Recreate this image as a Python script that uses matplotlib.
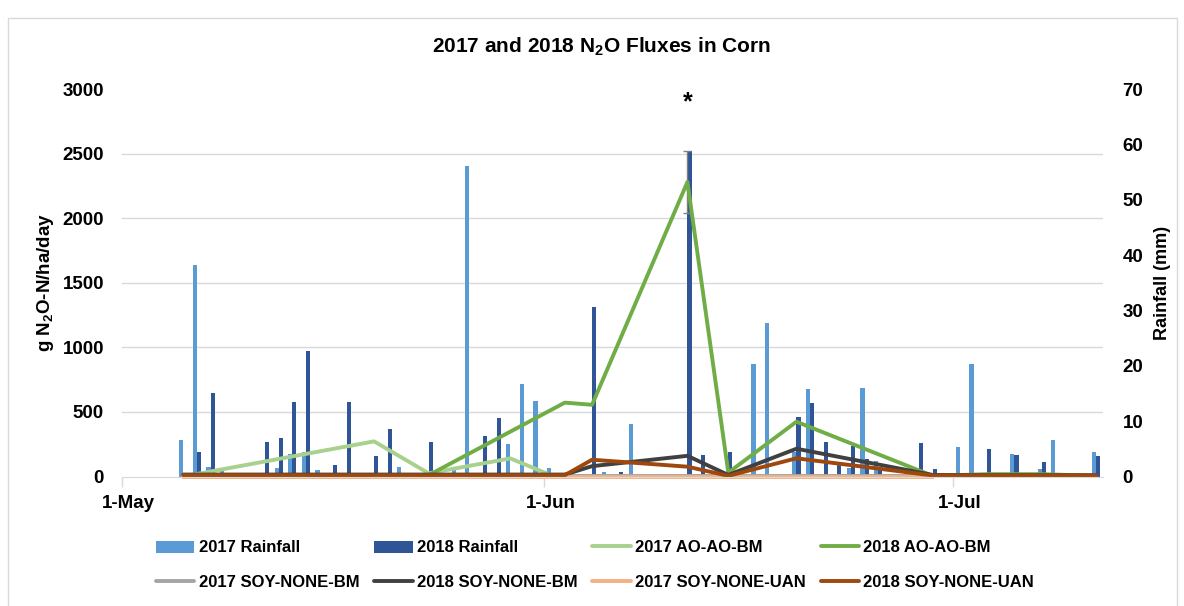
import numpy as np
import pandas as pd
import matplotlib
matplotlib.use('Agg')
import matplotlib.pyplot as plt
from matplotlib.ticker import FixedLocator
from matplotlib.patches import Rectangle

# bold face for everything, subscripts in the same face
plt.rcParams['font.family'] = ['Liberation Sans', 'DejaVu Sans']
plt.rcParams['font.weight'] = 'bold'
plt.rcParams['mathtext.default'] = 'regular'

# daily rainfall (mm)
rain17_dates = ['5-May', '6-May', '7-May', '8-May', '12-May', '13-May', '14-May', '15-May',
                '21-May', '25-May', '26-May', '29-May', '30-May', '31-May', '1-Jun', '5-Jun',
                '7-Jun', '16-Jun', '17-Jun', '19-Jun', '20-Jun', '23-Jun', '24-Jun', '25-Jun',
                '1-Jul', '2-Jul', '5-Jul', '7-Jul', '8-Jul', '11-Jul']
rain17 = [6.6, 38.2, 1.7, 1.0, 1.6, 4.0, 4.5, 1.2,
          1.7, 1.4, 56.1, 5.9, 16.8, 13.6, 1.5, 0.8,
          9.4, 20.4, 27.7, 4.5, 15.8, 1.6, 15.9, 2.8,
          5.4, 20.4, 4.0, 1.35, 6.6, 4.5]

rain18_dates = ['6-May', '7-May', '11-May', '12-May', '13-May', '14-May', '16-May', '17-May',
                '19-May', '20-May', '21-May', '23-May', '27-May', '28-May', '4-Jun', '6-Jun',
                '11-Jun', '12-Jun', '14-Jun', '19-Jun', '20-Jun', '21-Jun', '22-Jun', '23-Jun',
                '24-Jun', '25-Jun', '28-Jun', '29-Jun', '3-Jul', '5-Jul', '7-Jul', '11-Jul']
rain18 = [4.5, 15.0, 6.3, 7.0, 13.5, 22.7, 2.0, 13.5,
          3.7, 8.5, 0.5, 6.3, 7.4, 10.5, 30.7, 0.8,
          58.8, 3.8, 4.4, 10.7, 13.2, 6.3, 2.1, 5.6,
          3.1, 1.3, 6.0, 1.4, 4.9, 3.8, 2.7, 3.7]

# N2O fluxes (g N2O-N/ha/day)
flux17_dates = ['5-May', '19-May', '23-May', '29-May', '1-Jun', '4-Jun', '11-Jun',
                '14-Jun', '19-Jun', '29-Jun']
ao17 = [0, 272, 25, 140, 10, 0, 0, 0, 0, 0]
bm17 = [5, 5, 5, 5, 5, 5, 5, 5, 5, 5]
uan17 = [0, 0, 0, 0, 0, 0, 0, 0, 0, 0]

flux18_dates = ['5-May', '12-May', '19-May', '23-May', '2-Jun', '4-Jun', '11-Jun',
                '14-Jun', '19-Jun', '29-Jun', '3-Jul', '7-Jul', '11-Jul']
ao18 = [0, 0, 0, 10, 572, 555, 2280, 30, 424, 5, 18, 18, 5]
bm18 = [15, 15, 15, 15, 15, 80, 160, 12, 215, 12, 10, 10, 10]
uan18 = [10, 10, 10, 10, 10, 130, 76, 5, 141, 8, 8, 8, 8]

# error bar on the 2018 AO-AO-BM peak
err_date = '11-Jun'
err_size = 240

month_labels = ['1-May', '1-Jun', '1-Jul']

START = pd.Timestamp('2018-05-01')


def day(labels):
    return np.array([(pd.to_datetime(s + '-2018', format='%d-%b-%Y') - START).days
                     for s in labels])


fig = plt.figure(figsize=(11.84, 6.06), dpi=100)
fig.patches.append(Rectangle((8 / 1184, -0.01), 1169 / 1184, 1 - 18 / 606 + 0.01,
                             transform=fig.transFigure, fill=False,
                             edgecolor='#D9D9D9', lw=1))

ax = fig.add_axes([122 / 1184, 1 - 476.5 / 606, 981 / 1184, 387.5 / 606])
ax2 = ax.twinx()
# lines above the rainfall bars
ax.set_zorder(ax2.get_zorder() + 1)
ax.patch.set_visible(False)

bar_w = 0.3
b17 = ax2.bar(day(rain17_dates) - bar_w / 2, rain17, width=bar_w, color='#5B9BD5',
              label='2017 Rainfall')
b18 = ax2.bar(day(rain18_dates) + bar_w / 2, rain18, width=bar_w, color='#2F5597',
              label='2018 Rainfall')

lw = 2.8
kw = dict(lw=lw, solid_joinstyle='round', solid_capstyle='round', clip_on=False)
l1, = ax.plot(day(flux17_dates), ao17, color='#A9D18E', label='2017 AO-AO-BM', **kw)
l2, = ax.plot(day(flux18_dates), ao18, color='#70AD47', label='2018 AO-AO-BM', **kw)
l3, = ax.plot(day(flux17_dates), bm17, color='#A5A5A5', label='2017 SOY-NONE-BM', **kw)
l4, = ax.plot(day(flux18_dates), bm18, color='#404040', label='2018 SOY-NONE-BM', **kw)
l5, = ax.plot(day(flux17_dates), uan17, color='#F4B183', label='2017 SOY-NONE-UAN', **kw)
l6, = ax.plot(day(flux18_dates), uan18, color='#9E480E', label='2018 SOY-NONE-UAN', **kw)

xe = day([err_date])[0]
ye = ao18[list(flux18_dates).index(err_date)]
ax.errorbar([xe], [ye], yerr=err_size, fmt='none', ecolor='#808080',
            elinewidth=1, capsize=3, capthick=1, zorder=1)
ax.text(xe, 2900, '*', ha='center', va='center', fontsize=18, fontweight='bold')

# axes ranges and ticks
ax.set_xlim(-0.5, 71.5)
ax.set_ylim(0, 3000)
ax.set_yticks(range(0, 3001, 500))
ax2.set_ylim(0, 70)
ax2.set_yticks(range(0, 71, 10))

ax.set_xticks(day(month_labels), labels=month_labels)
ax.xaxis.set_minor_locator(FixedLocator(day(month_labels) - 0.5))
ax.tick_params(axis='x', which='major', length=0, pad=13, labelsize=13.5)
ax.tick_params(axis='x', which='minor', length=7, color='#D9D9D9', width=1)
ax.tick_params(axis='y', length=0, pad=13, labelsize=13.5)
ax2.tick_params(axis='y', length=0, pad=14, labelsize=13.5)

# horizontal gridlines at the flux ticks, kept underneath the bars
ax2.yaxis.set_minor_locator(FixedLocator(np.arange(500, 3001, 500) * 70 / 3000))
ax2.tick_params(axis='y', which='minor', length=0)
ax2.grid(which='minor', axis='y', color='#D9D9D9', lw=1)
ax2.set_axisbelow(True)

for a in (ax, ax2):
    for s in ('top', 'left', 'right'):
        a.spines[s].set_visible(False)
ax.spines['bottom'].set_color('#D9D9D9')
ax2.spines['bottom'].set_visible(False)

ax.set_ylabel('g N$_2$O-N/ha/day', fontsize=13.5, fontweight='bold', labelpad=5)
ax2.set_ylabel('Rainfall (mm)', fontsize=13, fontweight='bold', labelpad=8)

fig.text(601 / 1184, 1 - 47 / 606, '2017 and 2018 N$_2$O Fluxes in Corn',
         ha='center', va='center', fontsize=15, fontweight='bold')

handles = [b17, b18, l1, l2, l3, l4, l5, l6]
order = [0, 4, 1, 5, 2, 6, 3, 7]
fig.legend([handles[i] for i in order], [handles[i].get_label() for i in order],
           ncol=4, loc='center', bbox_to_anchor=(595 / 1184, 41 / 606), frameon=False,
           fontsize=12, handlelength=2.3, handleheight=0.75, handletextpad=0.25,
           columnspacing=0.9, labelspacing=1.15)

fig.savefig('out.png', dpi=100, facecolor='white')
